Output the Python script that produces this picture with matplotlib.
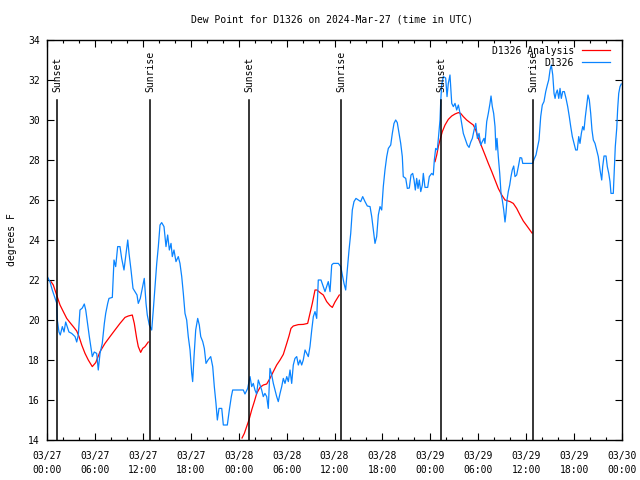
import matplotlib
matplotlib.use("Agg")
import matplotlib.pyplot as plt
from matplotlib.ticker import FixedLocator, MultipleLocator

plt.rcParams['font.family'] = ['DejaVu Sans Mono']
FS = 7

# ---- data (hours since 2024-03-27 00:00 UTC) ----
obs_hours = [0.09, 0.38, 0.66, 1.0, 1.21, 1.29, 1.50, 1.66, 1.92, 2.13, 2.34, 2.50, 2.75, 3.09, 3.51, 3.72,
             3.92, 4.13, 4.42, 4.67, 4.85, 5.10, 5.30, 5.51, 5.67, 5.92, 6.22, 6.42, 6.64, 6.92, 7.18, 7.35,
             7.60, 7.76, 8.18, 8.39, 8.60, 8.85, 9.14, 9.35, 9.64, 9.85, 10.11, 10.27, 10.52, 10.77, 11.02,
             11.27, 11.43, 11.68, 11.98, 12.18, 12.40, 12.56, 12.81, 13.11, 13.31, 13.52, 13.74, 13.94, 14.15,
             14.36, 14.65, 14.90, 15.11, 15.32, 15.53, 15.69, 15.90, 16.15, 16.44, 16.65, 16.87, 17.07, 17.28,
             17.49, 17.69, 17.91, 18.12, 18.24, 18.41, 18.62, 18.87, 19.07, 19.25, 19.50, 19.70, 19.91, 20.16,
             20.50, 20.75, 20.95, 21.16, 21.33, 21.54, 21.88, 22.08, 22.58, 22.83, 23.08, 23.25, 24.58, 24.79,
             25.13, 25.42, 25.63, 25.83, 26.04, 26.25, 26.46, 26.67, 26.88, 27.08, 27.29, 27.51, 27.71, 27.92,
             28.14, 28.34, 28.55, 28.76, 28.96, 29.18, 29.39, 29.59, 29.80, 30.02, 30.22, 30.43, 30.64, 30.84,
             31.05, 31.27, 31.47, 31.68, 31.89, 32.09, 32.31, 32.52, 32.72, 32.93, 33.15, 33.35, 33.56, 33.77,
             33.97, 34.31, 34.60, 34.81, 35.02, 35.22, 35.44, 35.65, 35.85, 36.48, 36.78, 36.98, 37.19, 37.40,
             37.60, 37.82, 38.03, 38.23, 38.44, 38.69, 38.98, 39.28, 39.53, 39.82, 40.11, 40.45, 40.66, 40.86,
             41.07, 41.28, 41.49, 41.70, 41.91, 42.11, 42.32, 42.54, 42.74, 43.04, 43.24, 43.45, 43.66, 43.86,
             44.08, 44.29, 44.49, 44.61, 44.92, 45.12, 45.37, 45.58, 45.79, 45.96, 46.12, 46.29, 46.46, 46.62,
             46.80, 47.00, 47.12, 47.33, 47.67, 47.87, 48.17, 48.37, 48.50, 48.67, 48.87, 48.99, 49.21, 49.30,
             49.42, 49.62, 49.92, 50.09, 50.25, 50.46, 50.68, 50.88, 51.09, 51.30, 51.51, 51.72, 51.93, 52.13,
             52.34, 52.63, 52.85, 53.06, 53.26, 53.48, 53.69, 53.89, 54.10, 54.31, 54.51, 54.72, 54.84, 55.06,
             55.26, 55.47, 55.60, 55.76, 55.93, 56.10, 56.22, 56.35, 56.51, 56.69, 56.85, 57.01, 57.19, 57.35,
             57.47, 57.60, 57.76, 57.94, 58.10, 58.26, 58.44, 58.60, 58.81, 59.02, 59.23, 59.44, 59.57, 60.82,
             60.98, 61.23, 61.40, 61.61, 61.82, 62.02, 62.23, 62.45, 62.65, 62.82, 62.99, 63.15, 63.33, 63.49,
             63.62, 63.74, 63.90, 64.08, 64.24, 64.40, 64.58, 64.78, 64.99, 65.20, 65.40, 65.58, 65.78, 65.99,
             66.20, 66.40, 66.58, 66.74, 66.91, 67.08, 67.24, 67.41, 67.58, 67.74, 67.91, 68.08, 68.24, 68.41,
             68.62, 68.83, 69.03, 69.25, 69.46, 69.58, 69.75, 70.00, 70.16, 70.34, 70.50, 70.62, 70.91, 71.04,
             71.16, 71.34, 71.46, 71.59, 71.75, 71.91]
obs_values = [22.13, 21.9, 21.5, 21.1, 20.85, 20.0, 19.4, 19.25, 19.67, 19.4, 19.9, 19.7, 19.4, 19.33, 19.17, 18.9,
              19.25, 20.5, 20.6, 20.8, 20.5, 19.75, 19.17, 18.6, 18.17, 18.4, 18.33, 17.5, 18.33, 18.83, 19.83, 20.33,
              20.83, 21.08, 21.13, 23.0, 22.67, 23.67, 23.67, 23.08, 22.5, 23.17, 24.0, 23.33, 22.5, 21.58, 21.42,
              21.25, 20.83, 21.08, 21.67, 22.08, 20.83, 20.25, 19.75, 19.5, 20.5, 21.67, 22.83, 23.67, 24.75,
              24.87, 24.67, 23.67, 24.25, 23.5, 23.83, 23.17, 23.5, 22.92, 23.17, 22.83, 22.17, 21.33, 20.33,
              20.0, 19.17, 18.5, 17.33, 16.92, 18.17, 19.5, 20.08, 19.75, 19.17, 18.92, 18.58, 17.83, 18.0,
              18.17, 17.67, 16.67, 15.83, 15.0, 15.58, 15.58, 14.75, 14.75, 15.5, 16.17, 16.5, 16.5, 16.3,
              16.58, 17.17, 16.67, 16.83, 16.5, 16.3, 17.0, 16.75, 16.5, 16.17, 16.33, 16.17, 15.58, 17.58,
              17.25, 16.83, 16.5, 16.17, 15.92, 16.33, 16.67, 17.08, 16.83, 17.17, 16.92, 17.5, 16.83, 17.75,
              18.08, 18.17, 17.75, 18.0, 17.75, 18.0, 18.5, 18.33, 18.17, 18.67, 19.5, 20.17, 20.42, 20.08,
              22.0, 22.0, 21.67, 21.42, 21.67, 21.92, 21.42, 22.75, 22.83, 22.83, 22.67, 22.25, 21.83, 21.5,
              22.5, 23.5, 24.33, 25.5, 25.92, 26.08, 26.0, 25.92, 26.17, 25.92, 25.7, 25.67, 25.17, 24.5,
              23.83, 24.17, 25.25, 25.67, 25.5, 26.67, 27.5, 28.17, 28.58, 28.75, 29.33, 29.83, 30.0, 29.87,
              29.33, 28.83, 28.17, 27.17, 27.08, 26.58, 26.6, 27.25, 27.33, 27.0, 26.5, 27.08, 26.58, 27.0,
              26.42, 26.75, 27.33, 26.63, 26.63, 27.17, 27.33, 27.25, 28.0, 28.58, 28.5, 29.0, 30.0, 30.92,
              31.75, 32.17, 32.1, 31.17, 31.83, 32.25, 30.83, 30.67, 30.83, 30.5, 30.75, 30.33, 29.83, 29.33,
              29.08, 28.75, 28.63, 28.9, 29.08, 29.5, 29.83, 29.08, 29.33, 28.75, 28.92, 29.08, 28.83, 29.92,
              30.33, 30.83, 31.2, 30.67, 30.33, 29.67, 28.5, 29.08, 28.17, 27.33, 26.33, 26.0, 25.5, 24.9,
              25.33, 26.0, 26.42, 26.75, 27.17, 27.5, 27.7, 27.17, 27.25, 27.67, 28.12, 28.1, 27.83, 27.83,
              28.03, 28.25, 28.58, 29.0, 30.17, 30.75, 30.92, 31.42, 31.75, 32.0, 32.5, 32.75, 32.25, 31.33,
              31.08, 31.33, 31.5, 31.08, 31.58, 31.08, 31.42, 31.42, 31.08, 30.67, 30.17, 29.67, 29.17, 28.83,
              28.5, 28.5, 29.17, 28.83, 29.33, 29.67, 29.5, 30.17, 30.75, 31.25, 31.0, 30.33, 29.5, 29.0,
              28.83, 28.5, 28.17, 27.5, 27.0, 27.67, 28.2, 28.2, 27.67, 27.33, 26.92, 26.33, 26.33, 27.5,
              28.67, 29.58, 30.58, 31.33, 31.67, 31.8]

ana1_hours = [0.50, 0.79, 1.21, 1.63, 2.04, 2.47, 2.88, 3.29, 3.72, 4.01, 4.35, 4.76, 5.17, 5.67, 6.10, 6.64,
              7.26, 7.89, 8.51, 9.14, 9.77, 10.18, 10.68, 10.93, 11.23, 11.43, 11.73, 11.98, 12.27, 12.68]
ana1_values = [21.92, 21.75, 21.25, 20.75, 20.42, 20.08, 19.87, 19.67, 19.45, 19.17, 18.75, 18.33, 18.0, 17.67,
               17.87, 18.42, 18.83, 19.17, 19.5, 19.83, 20.13, 20.2, 20.25, 19.83, 19.08, 18.67, 18.38, 18.58,
               18.67, 18.9]
ana2_hours = [24.42, 24.71, 25.0, 25.29, 25.63, 25.96, 26.26, 26.67, 27.09, 27.51, 27.92, 28.34, 28.76, 29.18,
              29.59, 30.02, 30.30, 30.55, 30.84, 31.47, 32.09, 32.64, 32.93, 33.22, 33.56, 33.81, 34.19, 34.60,
              35.02, 35.44, 35.73, 36.06, 36.60]
ana2_values = [14.1, 14.33, 14.67, 15.0, 15.5, 15.92, 16.33, 16.63, 16.75, 16.8, 17.08, 17.42, 17.75, 18.0,
               18.28, 18.83, 19.2, 19.58, 19.7, 19.77, 19.78, 19.83, 20.33, 20.83, 21.5, 21.5, 21.37, 21.25,
               20.92, 20.72, 20.63, 20.9, 21.25]
ana3_hours = [48.59, 48.80, 49.0, 49.21, 49.50, 49.84, 50.25, 50.68, 51.09, 51.51, 51.80, 52.13, 52.55, 52.97,
              53.38, 53.68, 54.01, 54.43, 54.85, 55.26, 55.69, 56.10, 56.51, 56.94, 57.35, 57.98, 58.39, 58.81,
              59.23, 59.64, 60.10, 60.73]
ana3_values = [27.92, 28.25, 28.67, 29.0, 29.42, 29.75, 30.03, 30.2, 30.3, 30.37, 30.33, 30.17, 30.0, 29.87,
               29.75, 29.5, 29.08, 28.67, 28.25, 27.83, 27.42, 27.0, 26.58, 26.25, 26.0, 25.92, 25.83, 25.58,
               25.25, 24.95, 24.7, 24.35]

sun_hours = [1.29, 12.90, 25.33, 36.85, 49.37, 60.90]
sun_labels = ['Sunset', 'Sunrise', 'Sunset', 'Sunrise', 'Sunset', 'Sunrise']

tick_hours = [0, 6, 12, 18, 24, 30, 36, 42, 48, 54, 60, 66, 72]
tick_labels = ['03/27\n00:00', '03/27\n06:00', '03/27\n12:00', '03/27\n18:00',
               '03/28\n00:00', '03/28\n06:00', '03/28\n12:00', '03/28\n18:00',
               '03/29\n00:00', '03/29\n06:00', '03/29\n12:00', '03/29\n18:00',
               '03/30\n00:00']

title = 'Dew Point for D1326 on 2024-Mar-27 (time in UTC)'

# ---- figure ----
fig = plt.figure(figsize=(6.4, 4.8), dpi=100)
ax = fig.add_axes([47/640, 40/480, 575/640, 400/480])

RED = '#ff0000'
BLUE = '#0a84ff'

ax.plot(ana1_hours, ana1_values, color=RED, lw=0.9, label='D1326 Analysis')
ax.plot(ana2_hours, ana2_values, color=RED, lw=0.9)
ax.plot(ana3_hours, ana3_values, color=RED, lw=0.9)
ax.plot(obs_hours, obs_values, color=BLUE, lw=0.9, label='D1326')

for h, lab in zip(sun_hours, sun_labels):
    ax.plot([h, h], [14, 31.0], color='black', lw=1.1)
    ax.text(h, 31.38, lab, rotation=90, ha='center', va='bottom', fontsize=FS)

ax.set_xlim(0, 72)
ax.set_ylim(14, 34)
ax.xaxis.set_major_locator(FixedLocator(tick_hours))
ax.set_xticklabels(tick_labels, fontsize=FS, linespacing=1.45)
ax.xaxis.set_minor_locator(MultipleLocator(2))
ax.yaxis.set_major_locator(MultipleLocator(2))
ax.tick_params(axis='both', which='major', direction='in', length=5, width=0.8,
               top=True, right=True, labelsize=FS, pad=5)
ax.tick_params(axis='x', which='major', pad=8)
ax.tick_params(axis='x', which='minor', direction='in', length=2.5, width=0.8, top=True)
for s in ax.spines.values():
    s.set_linewidth(1.0)

ax.set_ylabel('degrees F', fontsize=FS, labelpad=8)
fig.text(332/640, 1 - 20/480, title, ha='center', va='center', fontsize=FS)

leg = ax.legend(loc='upper right', bbox_to_anchor=(1 - 6/575, 1), frameon=False, fontsize=FS,
                markerfirst=False, handlelength=2.9, handletextpad=0.8, borderaxespad=0.2,
                labelspacing=0.2)

fig.savefig('out.png', dpi=100)
